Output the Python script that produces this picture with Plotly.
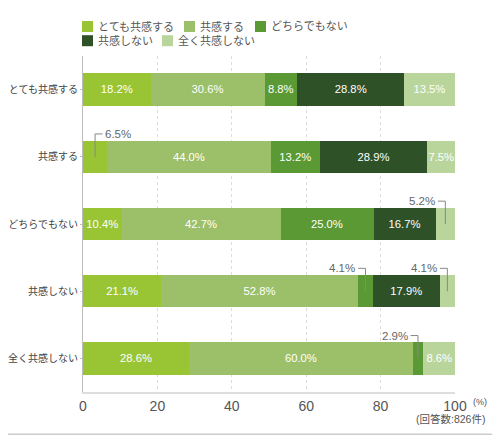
import plotly.graph_objects as go

# answers to the question (rows) and the answer groups (stacked series)
categories = ['とても共感する', '共感する', 'どちらでもない', '共感しない', '全く共感しない']
series_names = ['とても共感する', '共感する', 'どちらでもない', '共感しない', '全く共感しない']

very_agree = [18.2, 6.5, 10.4, 21.1, 28.6]
agree = [30.6, 44.0, 42.7, 52.8, 60.0]
neutral = [8.8, 13.2, 25.0, 4.1, 2.9]
disagree = [28.8, 28.9, 16.7, 17.9, 0.0]
strong_disagree = [13.5, 7.5, 5.2, 4.1, 8.6]

x_ticks = [0, 20, 40, 60, 80, 100]

colors = ['#99c535', '#9cbf69', '#5a9934', '#2e5128', '#b9d59b']
font_family = 'Liberation Sans, Noto Sans CJK JP, sans-serif'

# the page puts an 8px body margin round the figure, so the figure is
# made 8px smaller and every pixel below is a page pixel
PAGE_OFF = 8
PLOT_L, PLOT_R, PLOT_T, PLOT_B = 83, 455, 56, 392


def px(x):
    return (x - PLOT_L) / (PLOT_R - PLOT_L)


def py(y):
    return (PLOT_B - y) / (PLOT_B - PLOT_T)


series = [very_agree, agree, neutral, disagree, strong_disagree]
rows = list(range(len(categories)))
small = 7  # values below this get an outside label with a leader line

fig = go.Figure()
for name, vals, color in zip(series_names, series, colors):
    fig.add_trace(go.Bar(
        y=rows,
        x=vals,
        orientation='h',
        name=name,
        marker=dict(color=color, line=dict(width=0)),
        text=['{:.1f}%'.format(v) if v >= small else '' for v in vals],
        textposition='inside',
        insidetextanchor='middle',
        textangle=0,
        textfont=dict(color='white', size=12, family=font_family),
        hoverinfo='skip',
    ))

shapes = []
annotations = []

# leader lines for the thin segments
for i in rows:
    start = 0
    for vals in series:
        v = vals[i]
        mid = start + v / 2
        start += v
        if v <= 0 or v >= small:
            continue
        side = 1 if mid < 50 else -1
        top = i - 0.34
        shapes.append(dict(type='line', xref='x', yref='y', x0=mid, x1=mid, y0=i, y1=top,
                           line=dict(color='#888888', width=1)))
        shapes.append(dict(type='line', xref='x', yref='y', x0=mid, x1=mid + side * 2.0,
                           y0=top, y1=top, line=dict(color='#888888', width=1)))
        annotations.append(dict(xref='x', yref='y', x=mid + side * 2.2, y=top,
                                text='{:.1f}%'.format(v), showarrow=False,
                                xanchor='left' if side > 0 else 'right', yanchor='middle',
                                font=dict(family=font_family, size=11.5, color='#666666')))

# legend, laid out by hand in two rows like the original
legend_x = [82, 184, 255, 82, 162]
legend_y = [26.5, 26.5, 26.5, 40.7, 40.7]
for name, color, lx, ly in zip(series_names, colors, legend_x, legend_y):
    shapes.append(dict(type='rect', xref='paper', yref='paper',
                       x0=px(lx), x1=px(lx + 11), y0=py(ly + 5.5), y1=py(ly - 5.5),
                       fillcolor=color, line=dict(width=0)))
    annotations.append(dict(xref='paper', yref='paper', x=px(lx + 14), y=py(ly),
                            xanchor='left', yanchor='middle', text=name, showarrow=False,
                            font=dict(family=font_family, size=11, color='#555555')))

# frame (right and bottom edges are the ones inside the window)
shapes.append(dict(type='line', xref='paper', yref='paper', x0=px(499), x1=px(499),
                   y0=py(434.5), y1=py(PAGE_OFF), line=dict(color='#cccccc', width=1.5)))
shapes.append(dict(type='line', xref='paper', yref='paper', x0=px(PAGE_OFF), x1=px(499.3),
                   y0=py(434.3), y1=py(434.3), line=dict(color='#cccccc', width=1.5)))

annotations.append(dict(xref='paper', yref='paper', x=px(471), y=py(402),
                        xanchor='left', yanchor='middle', text='(%)', showarrow=False,
                        font=dict(family=font_family, size=9, color='#555555')))
annotations.append(dict(xref='paper', yref='paper', x=px(487), y=py(419),
                        xanchor='right', yanchor='middle', text='(回答数:826件)', showarrow=False,
                        font=dict(family=font_family, size=10.5, color='#555555')))

fig.update_layout(
    width=500 - PAGE_OFF,
    height=435 - PAGE_OFF,
    barmode='stack',
    bargap=0.52,
    plot_bgcolor='white',
    paper_bgcolor='white',
    margin=dict(l=PLOT_L - PAGE_OFF, r=500 - PLOT_R, t=PLOT_T - PAGE_OFF, b=435 - PLOT_B, pad=0),
    showlegend=False,
    xaxis=dict(
        range=[0, 100],
        tickvals=x_ticks,
        showgrid=True,
        gridcolor='#dddddd',
        griddash='dot',
        zeroline=False,
        showline=True,
        linecolor='#dddddd',
        linewidth=2,
        tickfont=dict(family=font_family, size=14, color='#555555'),
        automargin=False,
        fixedrange=True,
    ),
    yaxis=dict(
        range=[len(categories) - 0.5, -0.5],
        tickvals=rows,
        ticktext=categories,
        showgrid=False,
        zeroline=False,
        showline=True,
        linecolor='#bbbbbb',
        linewidth=1,
        ticks='outside',
        ticklen=2,
        tickcolor='#bbbbbb',
        tickfont=dict(family=font_family, size=10, color='#444444'),
        automargin=False,
        fixedrange=True,
    ),
    uniformtext=dict(minsize=11, mode='show'),
    shapes=shapes,
    annotations=annotations,
)

fig.write_html('out.html')
